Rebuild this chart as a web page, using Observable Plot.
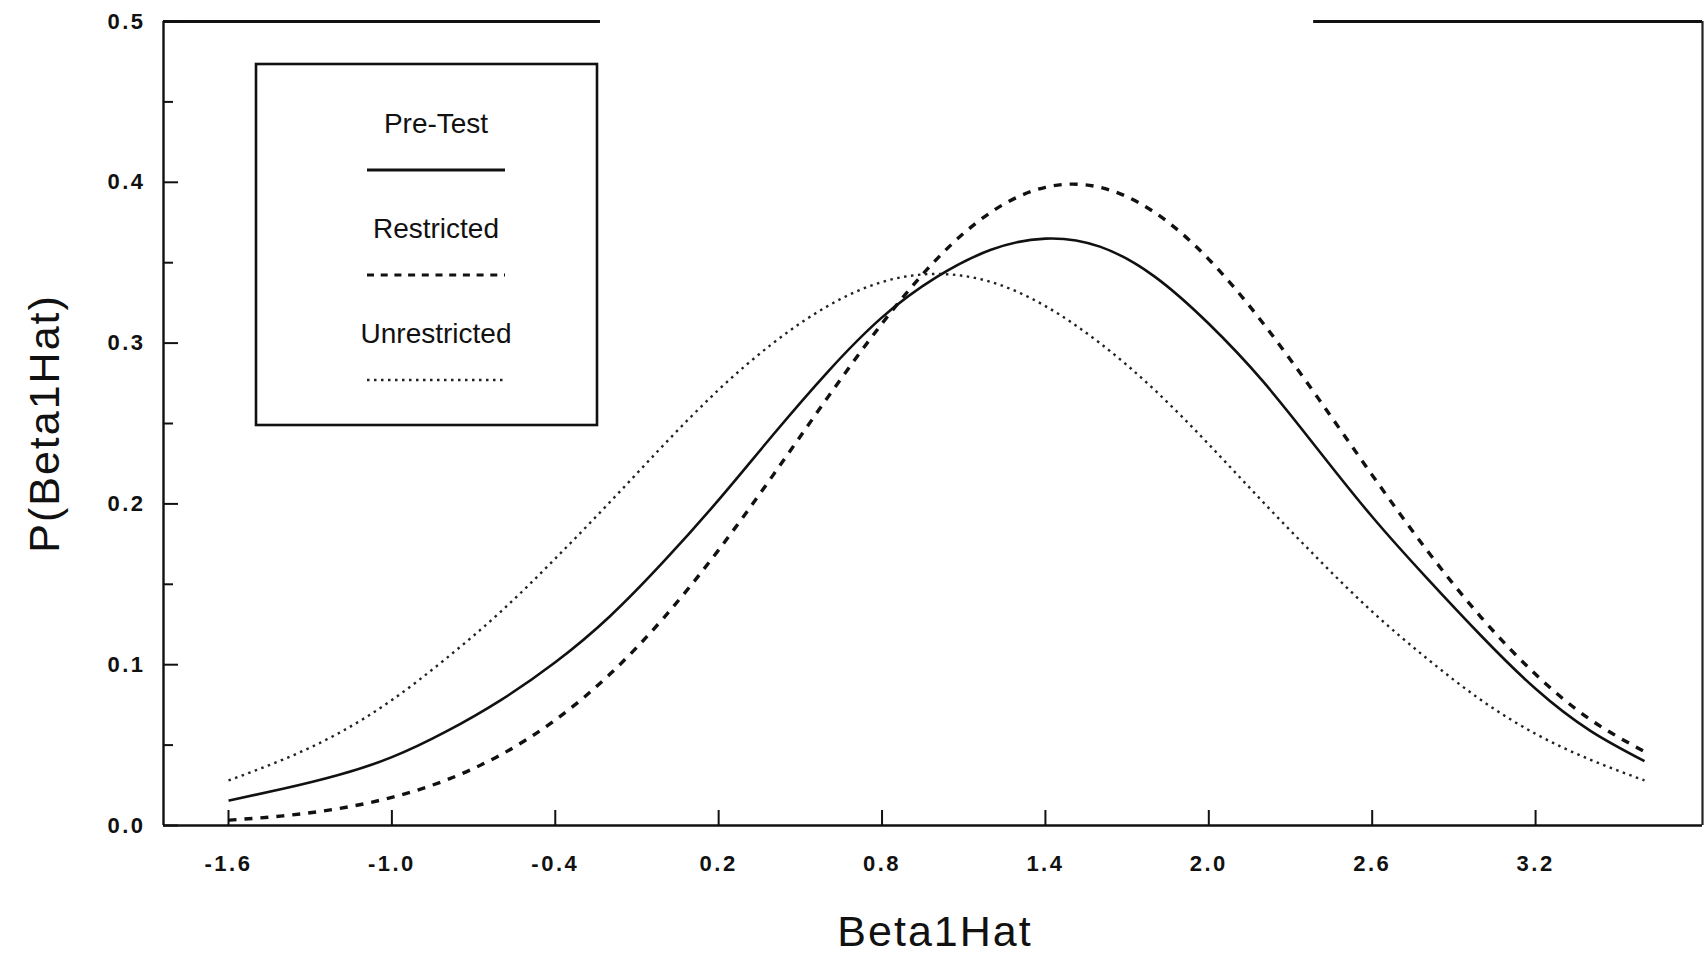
<!DOCTYPE html>
<html>
<head>
<meta charset="utf-8">
<script src="https://cdn.jsdelivr.net/npm/d3@7"></script>
<script src="https://cdn.jsdelivr.net/npm/@observablehq/plot@0.6"></script>
<style>
  html, body { margin: 0; padding: 0; background: #fff; overflow: hidden; }
  #wrap { position: relative; width: 1704px; height: 953px; overflow: hidden; background: #fff; }
  #wrap svg text { font-family: "Liberation Sans", Arial, Helvetica, sans-serif; }
  #legend { position: absolute; left: 0; top: 0; pointer-events: none; }
</style>
</head>
<body>
<div id="wrap"></div>
<script>
// ---- data ----
const betaHat = [-1.6, -1.4, -1.2, -1.0, -0.8, -0.6, -0.4, -0.2, 0.0, 0.2, 0.4, 0.6, 0.8,
                 1.0, 1.2, 1.4, 1.6, 1.8, 2.0, 2.2, 2.4, 2.6, 2.8, 3.0, 3.2, 3.4, 3.6];
const preTest = [0.0155, 0.0228, 0.0312, 0.0425, 0.0585, 0.0780, 0.1015, 0.1300, 0.1645, 0.2025,
                 0.2430, 0.2820, 0.3160, 0.3410, 0.3580, 0.3650, 0.3600, 0.3415, 0.3120, 0.2760,
                 0.2340, 0.1920, 0.1540, 0.1180, 0.0850, 0.0590, 0.0400];
const restricted = [0.0033, 0.0060, 0.0104, 0.0175, 0.0283, 0.0440, 0.0656, 0.0940, 0.1295, 0.1714,
                    0.2179, 0.2661, 0.3122, 0.3521, 0.3814, 0.3969, 0.3969, 0.3814, 0.3521, 0.3122,
                    0.2661, 0.2179, 0.1714, 0.1295, 0.0940, 0.0660, 0.0460];
const unrestricted = [0.0280, 0.0410, 0.0570, 0.0780, 0.1040, 0.1330, 0.1660, 0.2010, 0.2370, 0.2710,
                      0.3000, 0.3230, 0.3380, 0.3430, 0.3380, 0.3230, 0.3000, 0.2710, 0.2370, 0.2010,
                      0.1660, 0.1330, 0.1040, 0.0780, 0.0570, 0.0410, 0.0280];
const seriesNames = ["Pre-Test", "Restricted", "Unrestricted"];
const xTicks = [-1.6, -1.0, -0.4, 0.2, 0.8, 1.4, 2.0, 2.6, 3.2];
const yTicks = [0.0, 0.1, 0.2, 0.3, 0.4, 0.5];
const yMinorTicks = [0.05, 0.15, 0.25, 0.35, 0.45];
const xLabel = "Beta1Hat";
const yLabel = "P(Beta1Hat)";
const xDomain = [-1.8387, 3.813];
const yDomain = [0, 0.5];
// top border of the frame (the scan shows a gap in it)
const topBorder = [{x1: -1.8387, x2: -0.234}, {x1: 2.385, x2: 3.813}];

// ---- build table ----
const seriesValues = [preTest, restricted, unrestricted];
const rows = [];
seriesNames.forEach((s, k) => betaHat.forEach((b, i) => rows.push({series: s, b, p: seriesValues[k][i]})));

const styles = {
  "Pre-Test":     {stroke: "#111", strokeWidth: 2.6, strokeDasharray: null},
  "Restricted":   {stroke: "#111", strokeWidth: 3.4, strokeDasharray: "8,8"},
  "Unrestricted": {stroke: "#222", strokeWidth: 2.4, strokeDasharray: "2.5,4.5"}
};

const fmt = d => d.toFixed(1);
const font = '"Liberation Sans", Arial, Helvetica, sans-serif';

const lineMarks = seriesNames.map(s => Plot.line(rows.filter(r => r.series === s), {
  x: "b", y: "p", curve: "natural",
  stroke: styles[s].stroke, strokeWidth: styles[s].strokeWidth,
  strokeDasharray: styles[s].strokeDasharray, strokeLinecap: "butt"
}));

const chart = Plot.plot({
  width: 1704,
  height: 953,
  marginLeft: 163,
  marginRight: 2,
  marginTop: 21,
  marginBottom: 128,
  style: {fontFamily: font, background: "#fff", color: "#111"},
  x: {domain: xDomain},
  y: {domain: yDomain},
  marks: [
    // frame
    Plot.ruleY([0], {stroke: "#111", strokeWidth: 2.6}),
    Plot.ruleX([xDomain[0]], {stroke: "#111", strokeWidth: 2.4}),
    Plot.ruleX([xDomain[1]], {stroke: "#222", strokeWidth: 2.2}),
    Plot.ruleY(topBorder, {y: () => yDomain[1], x1: "x1", x2: "x2", stroke: "#111", strokeWidth: 2.8}),
    // inward ticks
    Plot.ruleX(xTicks, {x: d => d, y1: () => 0, y2: () => 0, insetTop: -15, stroke: "#111", strokeWidth: 2}),
    Plot.ruleY(yTicks, {y: d => d, x1: () => xDomain[0], x2: () => xDomain[0], insetRight: -15, stroke: "#111", strokeWidth: 2}),
    Plot.ruleY(yMinorTicks, {y: d => d, x1: () => xDomain[0], x2: () => xDomain[0], insetRight: -10, stroke: "#111", strokeWidth: 2}),
    // tick labels
    Plot.axisX({ticks: xTicks, tickSize: 0, tickPadding: 30, tickFormat: fmt, label: null,
                fontSize: 22, fontWeight: "bold", fill: "#111"}),
    Plot.axisY({ticks: yTicks, tickSize: 0, tickPadding: 18, tickFormat: fmt, label: null,
                fontSize: 22, fontWeight: "bold", fill: "#111"}),
    // axis titles
    Plot.text([xLabel], {text: d => d, frameAnchor: "bottom", textAnchor: "middle", lineAnchor: "bottom",
                         dy: 120, dx: 2, fontSize: 43, fill: "#111"}),
    Plot.text([yLabel], {text: d => d, frameAnchor: "left", textAnchor: "middle", lineAnchor: "bottom",
                         rotate: -90, dx: -105, fontSize: 43, fill: "#111"}),
    ...lineMarks
  ]
});

const wrap = document.getElementById("wrap");
wrap.appendChild(chart);
const svgSel = d3.select(chart.tagName.toLowerCase() === "svg" ? chart : chart.querySelector("svg"));
svgSel.selectAll('[aria-label$="tick label"] text').style("letter-spacing", "2.5px");
svgSel.selectAll("text").filter(function () { return this.textContent === xLabel || this.textContent === yLabel; })
  .style("letter-spacing", "2px");

// ---- legend box drawn over the plot ----
const legend = d3.select(wrap).append("svg")
  .attr("id", "legend").attr("width", 1704).attr("height", 953);
legend.append("rect")
  .attr("x", 256).attr("y", 64).attr("width", 341).attr("height", 361)
  .attr("fill", "#fff").attr("stroke", "#111").attr("stroke-width", 2.6);
const legendRows = seriesNames.map((s, i) => ({name: s, ty: 133 + i * 105, ly: 170 + i * 105}));
legend.selectAll("text.lg").data(legendRows).enter().append("text")
  .attr("class", "lg")
  .attr("x", 436).attr("y", d => d.ty)
  .attr("text-anchor", "middle")
  .style("font-family", font).style("font-size", "28px").attr("fill", "#111")
  .text(d => d.name);
legend.selectAll("line.lg").data(legendRows).enter().append("line")
  .attr("class", "lg")
  .attr("x1", 367).attr("x2", 505).attr("y1", d => d.ly).attr("y2", d => d.ly)
  .attr("stroke", d => styles[d.name].stroke)
  .attr("stroke-width", d => d.name === "Pre-Test" ? 3 : d.name === "Restricted" ? 3.2 : 2.4)
  .attr("stroke-dasharray", d => d.name === "Restricted" ? "7,6.7" : d.name === "Unrestricted" ? "2.5,4.5" : null);
</script>
</body>
</html>
